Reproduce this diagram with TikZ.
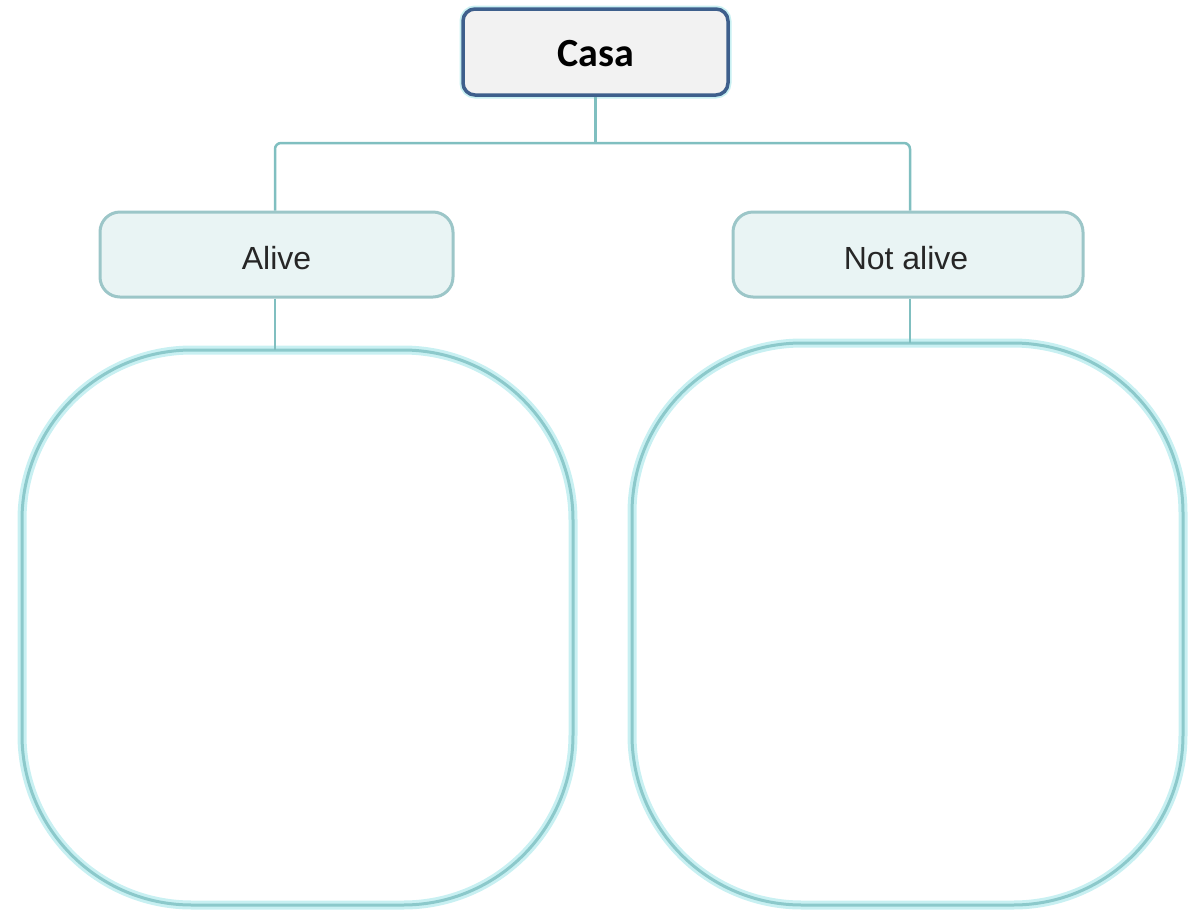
\documentclass[tikz,border=0pt]{standalone}
\usepackage{fontspec}
\setmainfont{Liberation Sans}
\newfontfamily\calfont{Carlito}
\definecolor{topborder}{HTML}{3E5F8C}
\definecolor{topfill}{HTML}{F2F2F2}
\definecolor{midborder}{HTML}{9CC6C8}
\definecolor{midfill}{HTML}{E9F4F4}
\definecolor{bigborder}{HTML}{8CC9CB}
\definecolor{glow}{HTML}{C8F0F2}
\definecolor{linkcol}{HTML}{80BFC0}
\begin{document}
\begin{tikzpicture}[x=1pt,y=-1pt,
  topbox/.style={draw=topborder,fill=topfill,line width=3.5pt,rounded corners=12pt},
  midbox/.style={draw=midborder,fill=midfill,line width=3pt,rounded corners=20pt},
  glowline/.style={draw=glow,line width=9pt},
  bigline/.style={draw=bigborder,line width=3pt},
  link/.style={draw=linkcol,line width=2.5pt},
  toptext/.style={font=\calfont\bfseries\fontsize{40}{48}\selectfont,text=black},
  midtext/.style={font=\fontsize{32}{38}\selectfont,text=black!85}]
\useasboundingbox (0,0) rectangle (1197,914);
% big boxes with glow
\draw[glowline,rounded corners=170pt] (22,350) rectangle (573,905);
\draw[bigline,rounded corners=170pt] (22,350) rectangle (573,905);
\draw[glowline,rounded corners=170pt] (632,343) rectangle (1183,905);
\draw[bigline,rounded corners=170pt] (632,343) rectangle (1183,905);
\coordinate (bigL) at (275,350);
\coordinate (bigR) at (910,343);
% top box
\draw[draw=glow,line width=7pt,rounded corners=12pt] (463,9) rectangle (728,95);
\node[topbox,minimum width=265pt,minimum height=86pt,inner sep=0pt] (casa) at (595.5,52) {};
\node[toptext] (casaT) at (595.5,54) {Casa};
% mid boxes
\node[midbox,minimum width=353pt,minimum height=85pt,inner sep=0pt] (alive) at (276.5,254.5) {};
\node[midtext] (aliveT) at (276.5,258) {Alive};
\node[midbox,minimum width=350pt,minimum height=85pt,inner sep=0pt] (notalive) at (908,254.5) {};
\node[midtext] (notaliveT) at (906,258) {Not alive};
% connectors
\coordinate (j) at (595.5,143);
\draw[link] (casa.south) -- (j);
\draw[link,rounded corners=6pt] (alive.north -| 275,0) |- (j) -| (notalive.north -| 910,0);
\draw[link] (alive.south -| 275,0) -- (bigL);
\draw[link] (notalive.south -| 910,0) -- (bigR);
\end{tikzpicture}
\end{document}
